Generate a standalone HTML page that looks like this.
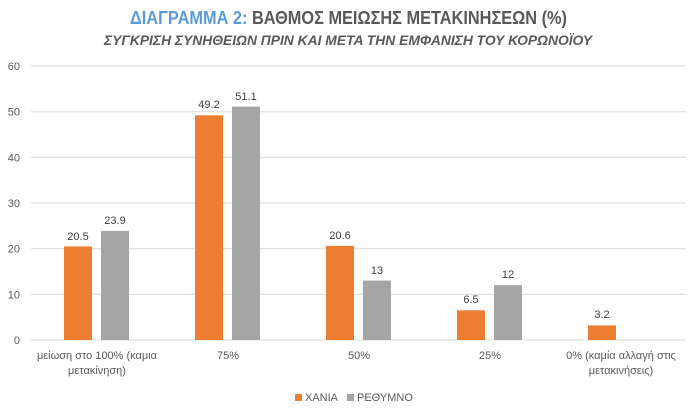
<!DOCTYPE html>
<html><head><meta charset="utf-8"><style>
body{margin:0;background:#fff;}
svg text{font-family:"Liberation Sans","DejaVu Sans",sans-serif;}
</style></head><body>
<svg width="696" height="413" viewBox="0 0 696 413" xmlns="http://www.w3.org/2000/svg">
<rect width="696" height="413" fill="#fff"/>
<text x="130" y="24" textLength="437" lengthAdjust="spacingAndGlyphs" font-size="18" font-weight="bold" fill="#595959"><tspan fill="#5b9bd5">ΔΙΑΓΡΑΜΜΑ 2:</tspan> ΒΑΘΜΟΣ ΜΕΙΩΣΗΣ ΜΕΤΑΚΙΝΗΣΕΩΝ (%)</text>
<text x="104" y="45" textLength="488" lengthAdjust="spacingAndGlyphs" font-size="14" font-style="italic" font-weight="bold" fill="#595959">ΣΥΓΚΡΙΣΗ ΣΥΝΗΘΕΙΩΝ ΠΡΙΝ ΚΑΙ ΜΕΤΑ ΤΗΝ ΕΜΦΑΝΙΣΗ ΤΟΥ ΚΟΡΩΝΟΪΟΥ</text>
<g stroke="#d9d9d9" stroke-width="1">
<line x1="31" x2="686" y1="66" y2="66"/><line x1="31" x2="686" y1="111.7" y2="111.7"/>
<line x1="31" x2="686" y1="157.3" y2="157.3"/><line x1="31" x2="686" y1="203" y2="203"/>
<line x1="31" x2="686" y1="248.7" y2="248.7"/><line x1="31" x2="686" y1="294.3" y2="294.3"/>
<line x1="31" x2="686" y1="340" y2="340"/>
</g>
<g font-size="11" fill="#595959" text-anchor="end">
<text x="20" y="70">60</text><text x="20" y="115.7">50</text><text x="20" y="161.3">40</text>
<text x="20" y="207">30</text><text x="20" y="252.7">20</text><text x="20" y="298.3">10</text><text x="20" y="344">0</text>
</g>
<g fill="#ed7d31">
<rect x="64" y="246.4" width="28" height="93.6"/>
<rect x="195" y="115.3" width="28" height="224.7"/>
<rect x="326" y="245.9" width="28" height="94.1"/>
<rect x="457" y="310.3" width="28" height="29.7"/>
<rect x="588" y="325.4" width="28" height="14.6"/>
</g>
<g fill="#a5a5a5">
<rect x="101" y="230.9" width="28" height="109.1"/>
<rect x="232" y="106.6" width="28" height="233.4"/>
<rect x="363" y="280.6" width="28" height="59.4"/>
<rect x="494" y="285.2" width="28" height="54.8"/>
</g>
<g font-size="11" fill="#404040" text-anchor="middle">
<text x="78" y="240">20.5</text><text x="115" y="224">23.9</text>
<text x="209" y="108">49.2</text><text x="246" y="100">51.1</text>
<text x="340" y="239">20.6</text><text x="377" y="274">13</text>
<text x="471" y="303">6.5</text><text x="508" y="278">12</text>
<text x="602" y="318">3.2</text>
</g>
<g font-size="11" fill="#595959" text-anchor="middle">
<text x="97" y="359">μείωση στο 100% (καμια</text><text x="97" y="374">μετακίνηση)</text>
<text x="228" y="359">75%</text>
<text x="359" y="359">50%</text>
<text x="490" y="359">25%</text>
<text x="621" y="359">0%  (καμία αλλαγή στις</text><text x="621" y="374">μετακινήσεις)</text>
</g>
<rect x="295" y="394" width="7" height="7" fill="#ed7d31"/>
<text x="305" y="401" font-size="11" fill="#595959">ΧΑΝΙΑ</text>
<rect x="347" y="394" width="7" height="7" fill="#a5a5a5"/>
<text x="357" y="401" font-size="11" fill="#595959">ΡΕΘΥΜΝΟ</text>
</svg>
</body></html>
